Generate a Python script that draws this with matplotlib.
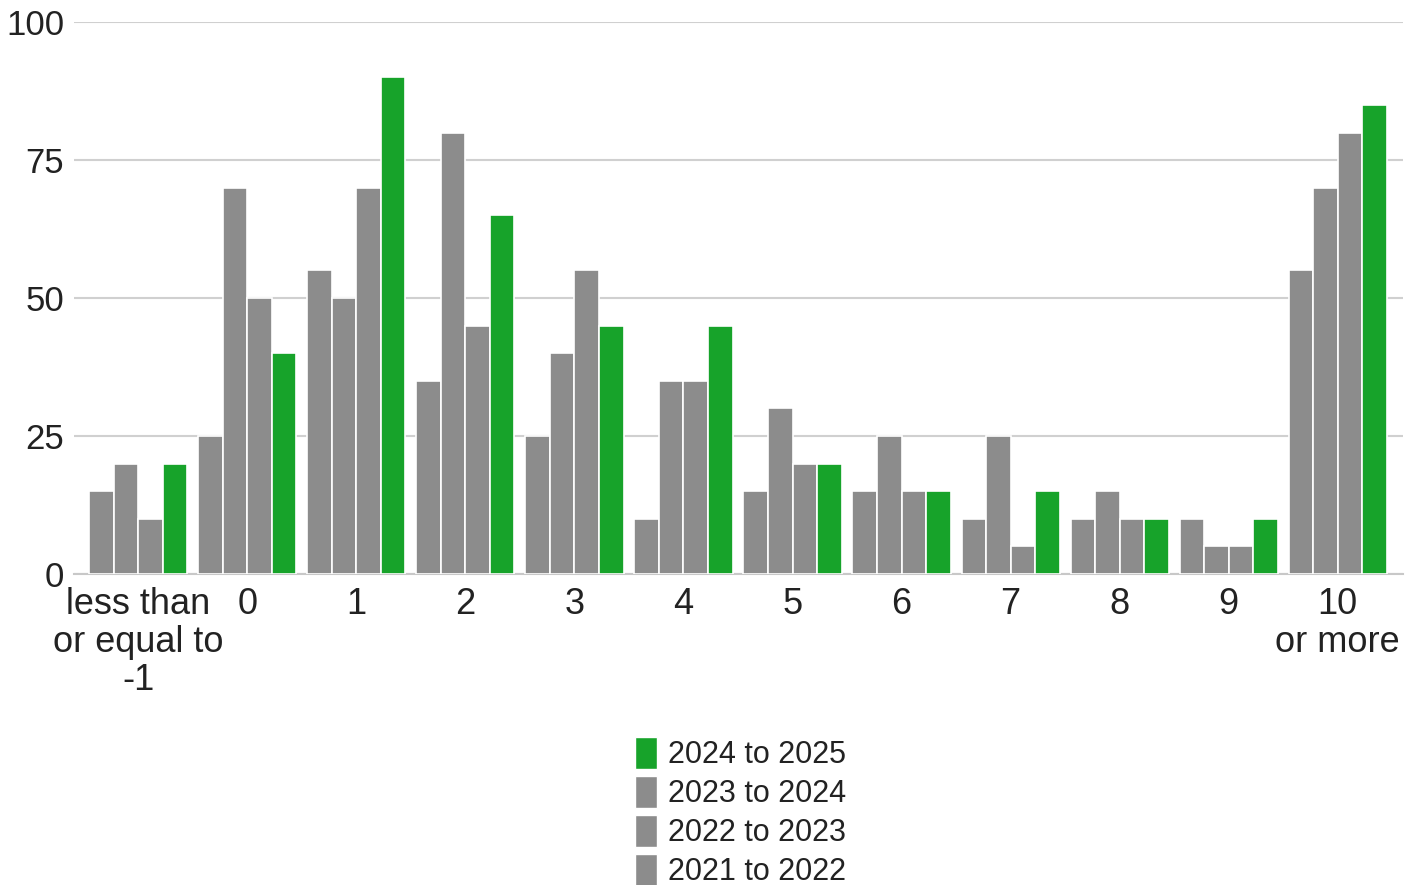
import matplotlib.pyplot as plt
import numpy as np
from matplotlib.patches import Patch

plt.rcParams['font.family'] = ['Liberation Sans', 'DejaVu Sans']

categories = ["less than\nor equal to\n-1", "0", "1", "2", "3", "4", "5", "6", "7", "8", "9", "10\nor more"]
series_names = ["2021 to 2022", "2022 to 2023", "2023 to 2024", "2024 to 2025"]
v_2021 = [15, 25, 55, 35, 25, 10, 15, 15, 10, 10, 10, 55]
v_2022 = [20, 70, 50, 80, 40, 35, 30, 25, 25, 15, 5, 70]
v_2023 = [10, 50, 70, 45, 55, 35, 20, 15, 5, 10, 5, 80]
v_2024 = [20, 40, 90, 65, 45, 45, 20, 15, 15, 10, 10, 85]
y_ticks = [0, 25, 50, 75, 100]

grey = "#8c8c8c"
green = "#17a32a"
colors = [grey, grey, grey, green]

fig = plt.figure(figsize=(14.17, 8.85), dpi=100)
ax = fig.add_axes([0.0522, 0.3514, 0.938, 0.6236])

x = np.arange(len(categories))
w = 0.225
for i, vals in enumerate([v_2021, v_2022, v_2023, v_2024]):
    ax.bar(x + (i - 1.5) * w, vals, width=w, color=colors[i],
           edgecolor="white", linewidth=1.2, zorder=3)

ax.set_xlim(-0.59, 11.6)
ax.set_ylim(0, 100)
ax.set_yticks(y_ticks)
ax.set_xticks(x)
ax.set_xticklabels(categories, fontsize=26, color="#222222", linespacing=1.12)
ax.tick_params(axis="y", labelsize=25, labelcolor="#222222", length=0, pad=7)
ax.tick_params(axis="x", length=0, pad=9)
ax.grid(axis="y", color="#d0d0d0", linewidth=1.5, zorder=0)
for s in ["top", "right", "left"]:
    ax.spines[s].set_visible(False)
ax.spines["bottom"].set_color("#c8c8c8")
ax.spines["bottom"].set_linewidth(1.5)

handles = [Patch(facecolor=colors[i], edgecolor="white", label=series_names[i]) for i in range(3, -1, -1)]
fig.legend(handles=handles, loc="upper left", bbox_to_anchor=(0.448, 0.167), frameon=False,
           fontsize=22, handlelength=0.72, handleheight=1.22, handletextpad=0.38,
           labelspacing=0.19, borderaxespad=0, borderpad=0, labelcolor="#222222")

fig.savefig("out.png", dpi=100)
